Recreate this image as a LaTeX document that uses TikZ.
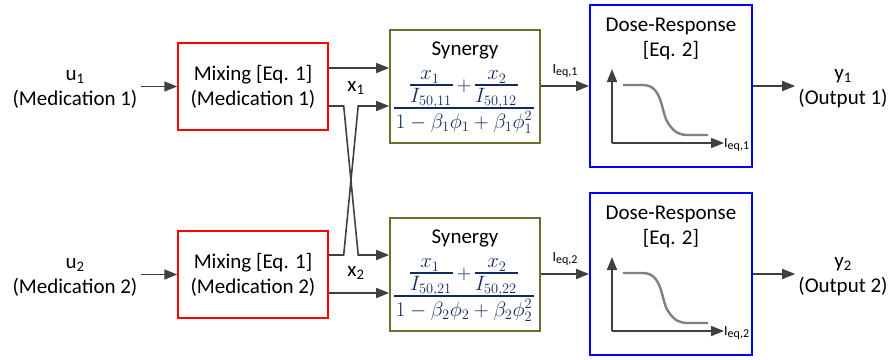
\documentclass[tikz,border=0pt]{standalone}
\usepackage{amsmath}
\usepackage{fontspec}
\setmainfont{Carlito}
\usetikzlibrary{arrows.meta,calc}
\definecolor{arrgrey}{RGB}{64,64,64}
\definecolor{curvegrey}{RGB}{128,128,128}
\definecolor{olivebox}{RGB}{110,110,50}
\definecolor{mathnavy}{RGB}{16,42,96}
\definecolor{mixred}{RGB}{255,0,0}
\definecolor{doseblue}{RGB}{0,0,255}
% equivalent-dose label with a roomy subscript
\newcommand{\ieqlabel}[1]{I{\fontsize{12}{12}\selectfont\raisebox{-2.5pt}{eq,#1}}}
\begin{document}
\begin{tikzpicture}[x=1pt,y=-1pt,
  txt/.style={font=\fontsize{21}{25}\selectfont, align=center, inner sep=3pt},
  small/.style={font=\fontsize{14}{15}\selectfont, inner sep=1pt},
  mixbox/.style={draw=mixred, line width=1.4pt, minimum width=150pt, minimum height=87pt, txt},
  synbox/.style={draw=olivebox, line width=1.6pt, fill=white, minimum width=150pt, minimum height=113pt, inner sep=0pt},
  dosebox/.style={draw=doseblue, line width=1.8pt, minimum width=162pt, minimum height=162pt, inner sep=0pt},
  arr/.style={draw=arrgrey, line width=1.6pt, -{Triangle[length=13pt,width=10pt]}},
  axis/.style={draw=arrgrey, line width=1.8pt, -{Triangle[length=13pt,width=10pt]}},
  curve/.style={draw=curvegrey, line width=2.4pt},
  mnum/.style={text=mathnavy, font=\fontsize{21}{22}\selectfont, inner sep=0pt},
  mden/.style={text=mathnavy, font=\fontsize{20}{22}\selectfont, inner sep=0pt},
  fbar/.style={draw=mathnavy, line width=1.6pt}
]
\useasboundingbox (0,0) rectangle (892,359);

% inputs
\node[txt] (u1) at (75,89) {u\textsubscript{1}\\(Medication 1)};
\node[txt] (u2) at (75,277) {u\textsubscript{2}\\(Medication 2)};

% mixing blocks
\node[mixbox] (mix1) at (253,86.5) {Mixing [Eq. 1]\\(Medication 1)};
\node[mixbox] (mix2) at (253,274.5) {Mixing [Eq. 1]\\(Medication 2)};

% synergy blocks with their fractions
\node[synbox] (syn1) at (465,86.5) {};
\node[synbox] (syn2) at (465,274.5) {};
\foreach \s/\k in {syn1/1, syn2/2} {
  \node[txt, anchor=base] (\s t) at ($(\s.center)+(0,-31.5)$) {Synergy};
  \node[mnum] (\s a) at ($(\s.center)+(-35,-9.5)$) {$x_1$};
  \draw[fbar] ($(\s.center)+(-55,-1.5)$) -- ($(\s.center)+(-12,-1.5)$);
  \node[mnum] (\s b) at ($(\s.center)+(-34,12)$) {$I_{50,\k1}$};
  \node[mnum] (\s p) at ($(\s.center)+(-1,0)$) {$+$};
  \node[mnum] (\s c) at ($(\s.center)+(32,-9.5)$) {$x_2$};
  \draw[fbar] ($(\s.center)+(10,-1.5)$) -- ($(\s.center)+(53,-1.5)$);
  \node[mnum] (\s d) at ($(\s.center)+(31,12)$) {$I_{50,\k2}$};
  \draw[fbar] ($(\s.center)+(-71,21.5)$) -- ($(\s.center)+(69,21.5)$);
  \node[mden] (\s e) at ($(\s.center)+(-1,36)$) {$1-\beta_\k\phi_\k+\beta_\k\phi_\k^2$};
}

% dose-response blocks
\node[dosebox] (dose1) at (671,86) {};
\node[txt, anchor=base] (dose1t) at (671,56) {Dose-Response\\{}[Eq. 2]};
\node[dosebox] (dose2) at (671,274) {};
\node[txt, anchor=base] (dose2t) at (671,244) {Dose-Response\\{}[Eq. 2]};

% outputs
\node[txt] (y1) at (843,89) {y\textsubscript{1}\\(Output 1)};
\node[txt] (y2) at (843,277) {y\textsubscript{2}\\(Output 2)};

% dose-response curves
\foreach \d/\k in {dose1/1, dose2/2} {
  \coordinate (o\k) at ($(\d.center)+(-59,57)$);
  \coordinate (ya\k) at ($(\d.center)+(-59,-17)$);
  \coordinate (xa\k) at ($(\d.center)+(53,57)$);
  \draw[axis] (o\k) -- (ya\k);
  \draw[axis] (o\k) -- (xa\k);
  \draw[curve] ($(\d.center)+(-48,-1)$) -- ($(\d.center)+(-28,-1)$)
     .. controls ($(\d.center)+(-8,-1)$) and ($(\d.center)+(-10,27)$) .. ($(\d.center)+(-3,37)$)
     .. controls ($(\d.center)+(4,48)$) and ($(\d.center)+(10,49)$) .. ($(\d.center)+(18,49)$)
     -- ($(\d.center)+(37,49)$);
  \node[small, anchor=west] (il\k) at ($(\d.center)+(52,59)$) {\ieqlabel{\k}};
}

% input arrows
\draw[arr] (u1.east |- mix1.west) -- (mix1.west);
\draw[arr] (u2.east |- mix2.west) -- (mix2.west);

% straight mixing outputs
\draw[arr] ($(mix1.east)+(0,-18.5)$) -- ($(syn1.west)+(0,-18.5)$);
\draw[arr] ($(mix2.east)+(0,18.5)$) -- ($(syn2.west)+(0,18.5)$);

% crossing mixing outputs
\draw[arr] ($(mix1.east)+(0,19.5)$) -- ++(15,0) -- ($(syn2.west)+(-31,-19.5)$) -- ($(syn2.west)+(0,-19.5)$);
\draw[arr] ($(mix2.east)+(0,-19.5)$) -- ++(15,0) -- ($(syn1.west)+(-31,19.5)$) -- ($(syn1.west)+(0,19.5)$);
\node[txt] (x1) at (356,88) {x\textsubscript{1}};
\node[txt] (x2) at (356,273) {x\textsubscript{2}};

% synergy to dose-response
\draw[arr] (syn1.east |- dose1.center) -- (dose1.west);
\draw[arr] (syn2.east |- dose2.center) -- (dose2.west);
\node[small] (ie1) at (565,71) {\ieqlabel{1}};
\node[small] (ie2) at (565,259) {\ieqlabel{2}};

% outputs
\draw[arr] (dose1.east |- dose1.center) -- (y1.west |- dose1.center);
\draw[arr] (dose2.east |- dose2.center) -- (y2.west |- dose2.center);
\end{tikzpicture}
\end{document}
